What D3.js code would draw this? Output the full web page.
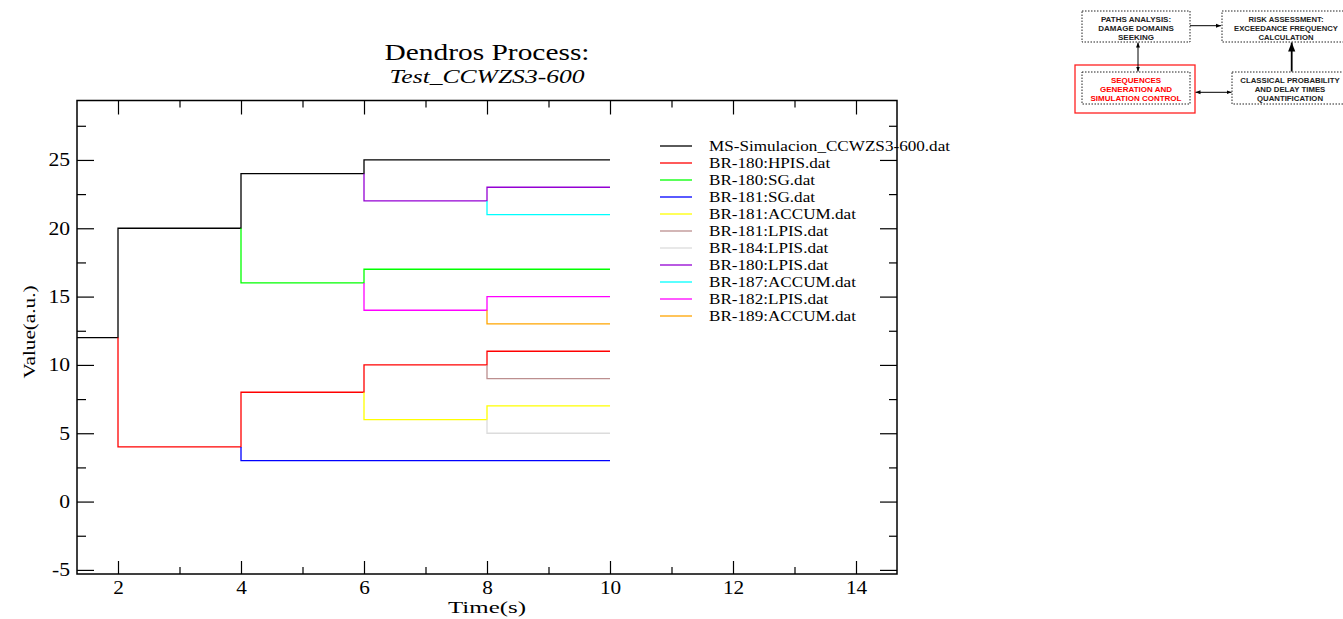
<!DOCTYPE html>
<html><head><meta charset="utf-8">
<script src="https://cdn.jsdelivr.net/npm/d3@7"></script>
<style>
body{margin:0;background:#fff;}
svg{display:block;}
.sf{font-family:"Liberation Serif","Times New Roman",Times,serif;}
.ss{font-family:"Liberation Sans",Arial,Helvetica,sans-serif;font-weight:bold;}
</style></head>
<body>
<svg id="c" width="1343" height="619"></svg>
<script>
// ---- data ----
const seriesNames = ["MS-Simulacion_CCWZS3-600.dat","BR-180:HPIS.dat","BR-180:SG.dat","BR-181:SG.dat","BR-181:ACCUM.dat","BR-181:LPIS.dat","BR-184:LPIS.dat","BR-180:LPIS.dat","BR-187:ACCUM.dat","BR-182:LPIS.dat","BR-189:ACCUM.dat"];
const seriesColors = ["#000000","#ff0000","#00ff00","#0000ff","#ffff00","#bc8f8f","#dcdcdc","#9400d3","#00ffff","#ff00ff","#ffa500"];
const seriesTimes = [
  [0,2,4,6,10],
  [2,2,4,6,8,10],
  [4,4,6,10],
  [4,4,10],
  [6,6,8,10],
  [8,8,10],
  [8,8,10],
  [6,6,8,10],
  [8,8,10],
  [6,6,8,10],
  [8,8,10]
];
const seriesValues = [
  [12,20,24,25,25],
  [12,4,8,10,11,11],
  [20,16,17,17],
  [4,3,3],
  [8,6,7,7],
  [10,9,9],
  [6,5,5],
  [24,22,23,23],
  [22,21,21],
  [16,14,15,15],
  [14,13,13]
];
const xMajorTicks = [2,4,6,8,10,12,14];
const xMinorTicks = [3,5,7,9,11,13];
const yMajorTicks = [-5,0,5,10,15,20,25];
const yMinorTicks = [-2.5,2.5,7.5,12.5,17.5,22.5,27.5];
const titleText = "Dendros Process:";
const subtitleText = "Test_CCWZS3-600";
const xLabel = "Time(s)";
const yLabel = "Value(a.u.)";
const diagramBoxes = [
  {lines:["PATHS ANALYSIS:","DAMAGE DOMAINS","SEEKING"], red:false},
  {lines:["RISK ASSESSMENT:","EXCEEDANCE FREQUENCY","CALCULATION"], red:false},
  {lines:["SEQUENCES","GENERATION AND","SIMULATION CONTROL"], red:true},
  {lines:["CLASSICAL PROBABILITY","AND DELAY TIMES","QUANTIFICATION"], red:false}
];

// ---- chart ----
const svg = d3.select("#c");
const L=77, R=897, T=100.5, B=574;
const x = d3.scaleLinear().domain([1.3333,14.6667]).range([L,R]);
const y = d3.scaleLinear().domain([-5.3,29.35]).range([B,T]);

function stretch(sel, factor){
  sel.each(function(){
    const w = this.getComputedTextLength();
    d3.select(this).attr("textLength", w*factor).attr("lengthAdjust","spacingAndGlyphs");
  });
}
function fitTo(sel, target){
  const w = sel.node().getComputedTextLength();
  sel.attr("textLength", target).attr("lengthAdjust","spacingAndGlyphs");
  return target / w;
}

svg.append("defs").append("clipPath").attr("id","pc")
  .append("rect").attr("x",L).attr("y",T).attr("width",R-L).attr("height",B-T);

const lineGen = d3.line().x(d=>x(d[0])).y(d=>y(d[1])).curve(d3.curveStepAfter);
const g = svg.append("g").attr("clip-path","url(#pc)");
seriesTimes.forEach((ts,i)=>{
  const pts = ts.map((t,j)=>[t,seriesValues[i][j]]);
  g.append("path").attr("d",lineGen(pts)).attr("fill","none")
    .attr("stroke",seriesColors[i]).attr("stroke-width",1.3);
});

// frame
svg.append("rect").attr("x",L).attr("y",T).attr("width",R-L).attr("height",B-T)
  .attr("fill","none").attr("stroke","#000").attr("stroke-width",1.5);

// axes with inward ticks
function axis(gen, scale, ticks, size, tf, label){
  const a = gen(scale).tickValues(ticks).tickSizeInner(size).tickSizeOuter(0).tickPadding(8);
  a.tickFormat(label ? (d=>String(d)) : ()=> "");
  const gg = svg.append("g").attr("transform",tf).call(a);
  gg.attr("font-family",null).attr("font-size",null);
  gg.select(".domain").remove();
  gg.selectAll("line").attr("stroke","#000").attr("stroke-width",1.2);
  gg.selectAll("text").attr("class","sf").style("font-size","18px").attr("fill","#000");
  return gg;
}
const xb = axis(d3.axisBottom, x, xMajorTicks, -13, `translate(0,${B})`, true);
xb.selectAll("text").attr("y",20).attr("dy",null);
stretch(xb.selectAll("text"), 1.18);
axis(d3.axisBottom, x, xMinorTicks, -7, `translate(0,${B})`, false);
axis(d3.axisTop, x, xMajorTicks, -14, `translate(0,${T})`, false);
axis(d3.axisTop, x, xMinorTicks, -7, `translate(0,${T})`, false);
const yl = axis(d3.axisLeft, y, yMajorTicks, -17, `translate(${L},0)`, true);
yl.selectAll("text").attr("x",-7).attr("dy","0.33em");
stretch(yl.selectAll("text"), 1.2);
axis(d3.axisLeft, y, yMinorTicks, -9, `translate(${L},0)`, false);
axis(d3.axisRight, y, yMajorTicks, -17, `translate(${R},0)`, false);
axis(d3.axisRight, y, yMinorTicks, -8, `translate(${R},0)`, false);

// titles
const cx = (L+R)/2;
const t1 = svg.append("text").attr("class","sf").attr("x",cx).attr("y",60).attr("text-anchor","middle")
  .style("font-size","23px").text(titleText);
fitTo(t1, 205);
const t2 = svg.append("text").attr("class","sf").attr("x",cx).attr("y",83).attr("text-anchor","middle")
  .style("font-size","18px").style("font-style","italic").text(subtitleText);
fitTo(t2, 195);
const xt = svg.append("text").attr("class","sf").attr("x",cx).attr("y",613).attr("text-anchor","middle")
  .style("font-size","17px").text(xLabel);
fitTo(xt, 78);
const yt = svg.append("text").attr("class","sf").attr("transform","translate(35,332) rotate(-90)").attr("text-anchor","middle")
  .style("font-size","17px").text(yLabel);
fitTo(yt, 93);

// legend
const lg = svg.append("g");
let legFactor = 1;
seriesNames.forEach((n,i)=>{
  const yy = 146 + 17*i;
  lg.append("line").attr("x1",660).attr("x2",692).attr("y1",yy).attr("y2",yy)
    .attr("stroke",seriesColors[i]).attr("stroke-width",1.3);
  const tx = lg.append("text").attr("class","sf").attr("x",709).attr("y",yy+5)
    .style("font-size","15px").text(n);
  if(i===0) legFactor = fitTo(tx, 241);
  else stretch(tx, legFactor);
});

// ---- diagram ----
const dg = svg.append("g");
const boxGeom = [
  {x:1082,y:11,w:108,h:31,cx:1136,fs:8},
  {x:1222,y:11,w:140,h:31,cx:1286,fs:7.7},
  {x:1082,y:72,w:108,h:32,cx:1136,fs:8},
  {x:1232,y:72,w:125,h:32,cx:1290,fs:7.8}
];
dg.append("rect").attr("x",1075).attr("y",65).attr("width",120).attr("height",48)
  .attr("fill","none").attr("stroke","#ff2020").attr("stroke-width",1.3);
diagramBoxes.forEach((b,i)=>{
  const q = boxGeom[i];
  dg.append("rect").attr("x",q.x).attr("y",q.y).attr("width",q.w).attr("height",q.h)
    .attr("fill","none").attr("stroke","#222").attr("stroke-width",1).attr("stroke-dasharray","1.5,1.5");
  b.lines.forEach((t,j)=>{
    dg.append("text").attr("class","ss").attr("x",q.cx).attr("y",q.y+10.5+j*9.2).attr("text-anchor","middle")
      .style("font-size",q.fs+"px")
      .attr("fill",b.red?"#ff0000":"#222").text(t);
  });
});
const defs = svg.select("defs");
defs.append("marker").attr("id","ah").attr("viewBox","0 0 10 10").attr("refX",10).attr("refY",5)
  .attr("markerWidth",5).attr("markerHeight",5).attr("orient","auto-start-reverse")
  .append("path").attr("d","M0,1 L10,5 L0,9 z").attr("fill","#000");
function arrow(x1,y1,x2,y2,both,w){
  const l = dg.append("line").attr("x1",x1).attr("y1",y1).attr("x2",x2).attr("y2",y2)
    .attr("stroke","#000").attr("stroke-width",w||1).attr("marker-end","url(#ah)");
  if(both) l.attr("marker-start","url(#ah)");
}
arrow(1190,25.7,1221,25.7,false,1);
arrow(1138,42.5,1138,71.5,true,1);
arrow(1195.5,92.3,1231.5,92.3,true,1);
arrow(1291.7,71.5,1291.7,42.5,false,1.8);
</script>
</body></html>
